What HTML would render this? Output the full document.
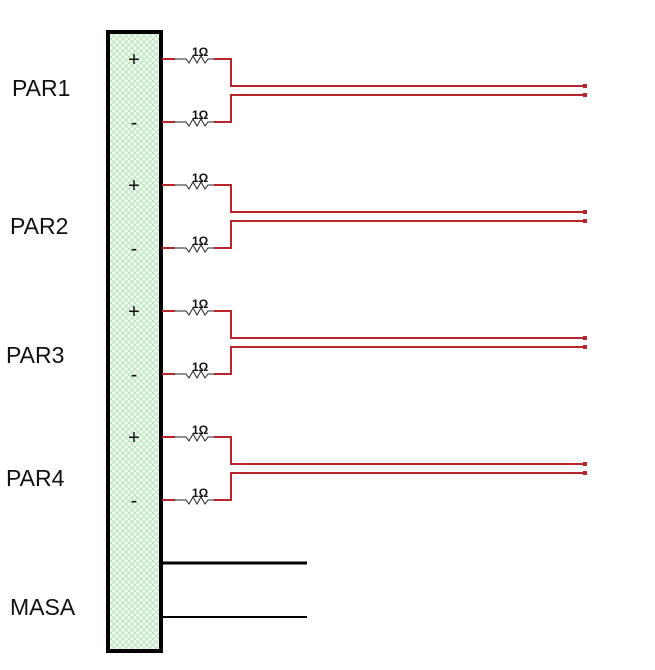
<!DOCTYPE html>
<html><head><meta charset="utf-8"><style>
html,body{margin:0;padding:0;background:#fff;}
svg{display:block;}
</style></head><body>
<svg width="655" height="670" viewBox="0 0 655 670" xmlns="http://www.w3.org/2000/svg">
<defs>
<pattern id="h" width="6" height="6" patternUnits="userSpaceOnUse">
<rect width="6" height="6" fill="#eefaee"/>
<path d="M0 0L6 6M6 0L0 6" stroke="#b5e3b5" stroke-width="0.8"/>
</pattern>
<g id="res">
<line x1="162" y1="0" x2="175" y2="0" stroke="#b8252a" stroke-width="2"/>
<polyline points="175,0 186,0 189,4 193,-3 197,4 201,-3 205,4 208,0 214,0" fill="none" stroke="#222" stroke-width="1"/>
<line x1="214" y1="0" x2="232" y2="0" stroke="#b8252a" stroke-width="2"/>
<text x="192" y="-3" font-family="Liberation Sans, sans-serif" font-size="12" font-weight="bold" fill="#111">1Ω</text>
</g>
<g id="pair">
<use href="#res" y="59"/>
<use href="#res" y="122"/>
<polyline points="231,59 231,86 585,86" fill="none" stroke="#b8252a" stroke-width="2"/>
<polyline points="231,122 231,95 585,95" fill="none" stroke="#b8252a" stroke-width="2"/>
<rect x="583" y="84" width="4" height="4" fill="#b8252a"/>
<rect x="583" y="93" width="4" height="4" fill="#b8252a"/>
<text x="134" y="66" font-family="Liberation Sans, sans-serif" font-size="20" text-anchor="middle" fill="#111">+</text>
<text x="134" y="129" font-family="Liberation Sans, sans-serif" font-size="20" text-anchor="middle" fill="#111">-</text>
</g>
</defs>
<rect x="108" y="32" width="53" height="619" fill="url(#h)" stroke="#000" stroke-width="4"/>
<use href="#pair"/>
<use href="#pair" y="126"/>
<use href="#pair" y="252"/>
<use href="#pair" y="378"/>
<line x1="162" y1="563" x2="307" y2="563" stroke="#000" stroke-width="3"/>
<line x1="162" y1="617" x2="307" y2="617" stroke="#000" stroke-width="2"/>
<g font-family="Liberation Sans, sans-serif" font-size="23" fill="#111">
<text x="12" y="96">PAR1</text>
<text x="10" y="234">PAR2</text>
<text x="6" y="363">PAR3</text>
<text x="6" y="486">PAR4</text>
<text x="10" y="615">MASA</text>
</g>
</svg>
</body></html>
